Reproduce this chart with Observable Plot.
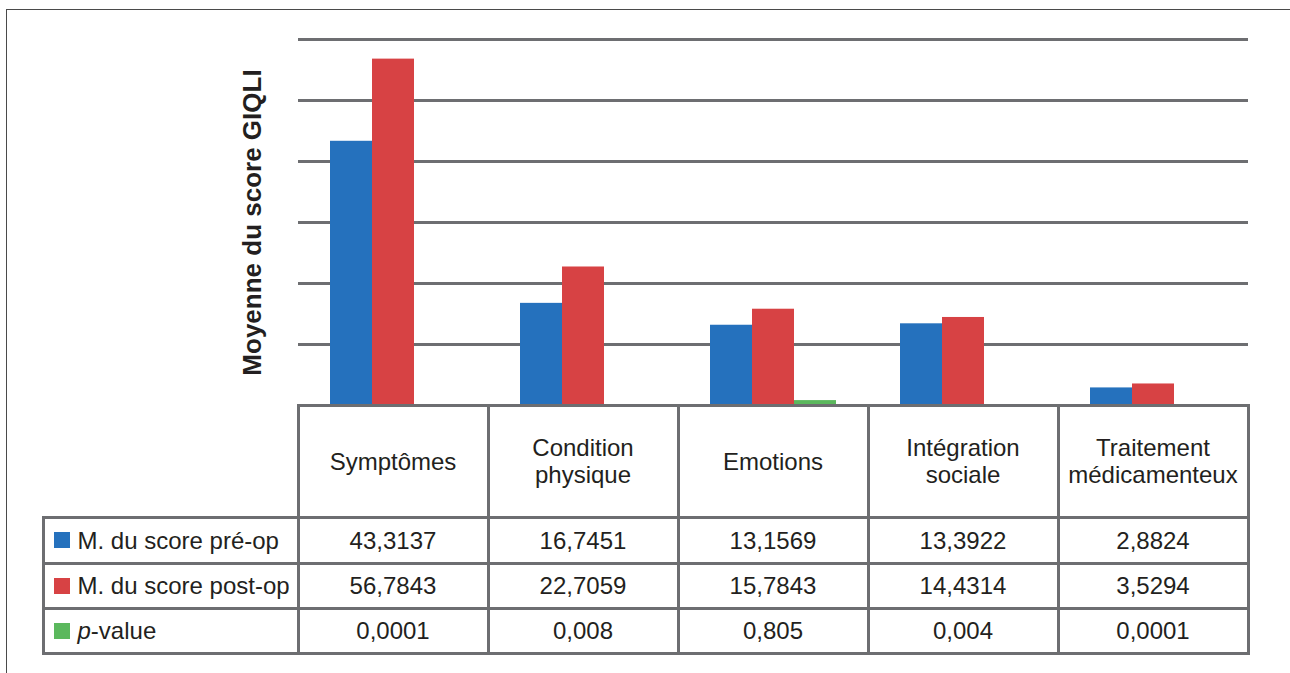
<!DOCTYPE html>
<html lang="fr">
<head>
<meta charset="utf-8">
<script src="https://cdn.jsdelivr.net/npm/d3@7"></script>
<script src="https://cdn.jsdelivr.net/npm/@observablehq/plot@0.6"></script>
<style>
  html, body { margin: 0; padding: 0; background: #ffffff; }
  #chart {
    position: relative; width: 1290px; height: 673px; overflow: hidden;
    font-family: "Liberation Sans", Arial, sans-serif; color: #231f20;
  }
  #frame {
    position: absolute; left: 5.5px; top: 9px; right: -10px; bottom: -10px;
    border-left: 1px solid #4a4a4a; border-top: 1px solid #4a4a4a;
  }
  #chart svg { position: absolute; left: 0; top: 0; }
  [aria-label="y-axis label"] text {
    font-size: 26px; font-weight: bold; fill: #231f20;
  }
  .cell {
    position: absolute; box-sizing: border-box; border: 3px solid #6d6e71;
    display: flex; align-items: center; justify-content: center; text-align: center;
    font-size: 24px; line-height: 27px; background: #ffffff;
  }
  .cell.label { justify-content: flex-start; padding-left: 9px; }
  .swatch { display: inline-block; width: 16px; height: 16px; margin-right: 8px; flex: none; }
</style>
</head>
<body>
<div id="chart"><div id="frame"></div></div>
<script>
// Domaines du score GIQLI
const categories = ["Symptômes", "Condition physique", "Emotions", "Intégration sociale", "Traitement médicamenteux"];
const headerLines = [["Symptômes"], ["Condition", "physique"], ["Emotions"], ["Intégration", "sociale"], ["Traitement", "médicamenteux"]];

// Séries
const series = ["M. du score pré-op", "M. du score post-op", "p-value"];
const seriesColors = ["#2571bd", "#d74244", "#5bb85d"];

// Valeurs
const preOp = [43.3137, 16.7451, 13.1569, 13.3922, 2.8824];
const postOp = [56.7843, 22.7059, 15.7843, 14.4314, 3.5294];
const pValue = [0.0001, 0.008, 0.805, 0.004, 0.0001];

// Graduations de l'axe vertical (lignes de quadrillage)
const yTicks = [10, 20, 30, 40, 50, 60];

const valuesBySeries = [preOp, postOp, pValue];
const rows = [];
series.forEach((s, si) => {
  categories.forEach((c, ci) => rows.push({category: c, series: s, value: valuesBySeries[si][ci]}));
});

const frenchNumber = (v) => String(v).replace(".", ",");

const chart = Plot.plot({
  width: 1290,
  height: 420,
  marginLeft: 298,
  marginRight: 42,
  marginTop: 39,
  marginBottom: 15,
  style: {background: "transparent", fontFamily: "Liberation Sans, Arial, sans-serif", overflow: "visible"},
  fx: {domain: categories, padding: 0, axis: null},
  x: {domain: series, paddingInner: 0, paddingOuter: 0.745, axis: null},
  y: {domain: [0, 60], axis: null},
  color: {domain: series, range: seriesColors},
  marks: [
    Plot.gridY(yTicks, {stroke: "#6d6e71", strokeWidth: 3, strokeOpacity: 1}),
    Plot.barY(rows, {fx: "category", x: "series", y: "value", fill: "series"}),
    Plot.axisY({
      ticks: [],
      tickSize: 0,
      label: "Moyenne du score GIQLI",
      labelAnchor: "center",
      labelArrow: "none",
      labelOffset: 56
    })
  ]
});

const root = document.getElementById("chart");
root.appendChild(chart);

// Tableau de données sous le graphique, aligné sur les bandes de l'échelle fx
const fx = chart.scale("fx");
const yScale = chart.scale("y");
const bandLeft = categories.map((c) => fx.apply(c));
const bw = fx.bandwidth;
const colEdges = [43, ...bandLeft, bandLeft[bandLeft.length - 1] + bw];
const top0 = yScale.apply(0);
const rowHeights = [112, 46, 45, 45];
const rowEdges = rowHeights.reduce((acc, h) => (acc.push(acc[acc.length - 1] + h), acc), [top0]);

function addCell(col, row, html, cls) {
  const d = document.createElement("div");
  d.className = "cell" + (cls ? " " + cls : "");
  d.style.left = (colEdges[col] - 1.5) + "px";
  d.style.top = (rowEdges[row] - 1.5) + "px";
  d.style.width = (colEdges[col + 1] - colEdges[col] + 3) + "px";
  d.style.height = (rowEdges[row + 1] - rowEdges[row] + 3) + "px";
  d.innerHTML = html;
  root.appendChild(d);
}

headerLines.forEach((lines, i) => addCell(i + 1, 0, "<div>" + lines.join("<br>") + "</div>"));

const seriesLabels = ["M. du score pré-op", "M. du score post-op", "<i>p</i>-value"];
series.forEach((s, si) => {
  addCell(0, si + 1,
    `<span class="swatch" style="background:${seriesColors[si]}"></span><span>${seriesLabels[si]}</span>`,
    "label");
  valuesBySeries[si].forEach((v, ci) => addCell(ci + 1, si + 1, frenchNumber(v)));
});
</script>
</body>
</html>
